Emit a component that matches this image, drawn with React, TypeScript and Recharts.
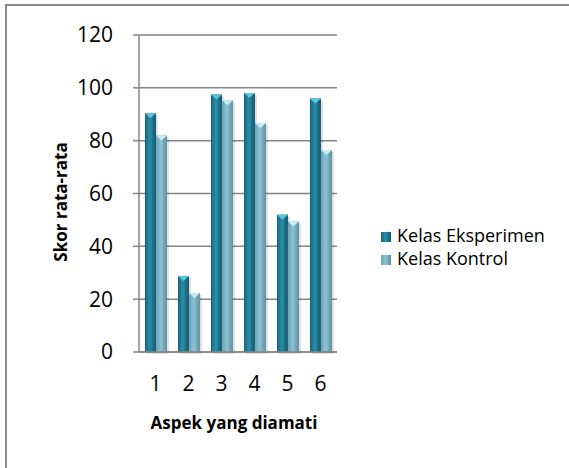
import { BarChart, Bar, XAxis, YAxis, CartesianGrid, Legend, Label } from "recharts";

const aspek = ["1", "2", "3", "4", "5", "6"];
const eksperimen = [90.4, 28.8, 97.5, 98.0, 52.0, 96.0];
const kontrol = [82.0, 22.3, 95.3, 86.7, 49.4, 76.5];
const yTicks = [0, 20, 40, 60, 80, 100, 120];

const data = aspek.map((a, i) => ({
  aspek: a,
  eksperimen: eksperimen[i],
  kontrol: kontrol[i],
}));

const FONT = "'Open Sans', Lato, sans-serif";

const BevelBar = (props: any) => {
  const { x, y, width, height, fill, tip } = props;
  if (!height || height <= 0) return null;
  const t = Math.min(5, width / 2);
  return (
    <g>
      <rect x={x + 2} y={y + 2} width={width} height={height} fill="#000" opacity={0.12} />
      <rect x={x} y={y} width={width} height={height} fill={fill} />
      <polygon
        points={`${x},${y} ${x + width},${y} ${x + width / 2},${y + t}`}
        fill={tip}
      />
    </g>
  );
};

export default function App() {
  return (
    <div
      style={{
        position: "absolute",
        left: 0,
        top: 0,
        width: 569,
        height: 468,
        background: "#fff",
        fontFamily: FONT,
        overflow: "hidden",
      }}
    >
      <div
        style={{
          position: "absolute",
          left: 5,
          top: 4,
          width: 580,
          height: 480,
          borderLeft: "2px solid #8c8c8c",
          borderTop: "2px solid #8c8c8c",
        }}
      />
      <BarChart
        width={569}
        height={468}
        data={data}
        margin={{ top: 35, right: 232, bottom: 86, left: 79 }}
        barCategoryGap="18%"
        barGap={0}
        style={{ position: "absolute", left: 0, top: 0 }}
      >
        <defs>
          <linearGradient id="gE" x1="0" y1="0" x2="1" y2="0">
            <stop offset="0%" stopColor="#176479" />
            <stop offset="45%" stopColor="#2a8fab" />
            <stop offset="100%" stopColor="#145468" />
          </linearGradient>
          <linearGradient id="gK" x1="0" y1="0" x2="1" y2="0">
            <stop offset="0%" stopColor="#6aa2b5" />
            <stop offset="45%" stopColor="#8ec2d3" />
            <stop offset="100%" stopColor="#5d8e9f" />
          </linearGradient>
        </defs>
        <CartesianGrid vertical={false} stroke="#868686" strokeWidth={1.5} />
        <XAxis
          dataKey="aspek"
          height={30}
          axisLine={{ stroke: "#868686", strokeWidth: 1.5 }}
          tickLine={false}
          tick={{ fill: "#000", fontSize: 21, fontFamily: FONT }}
          tickMargin={18}
        >
          <Label
            content={({ viewBox }: any) => (
              <text
                x={viewBox.x + viewBox.width / 2 - 4}
                y={429}
                textAnchor="middle"
                fontSize={17}
                fontWeight="bold"
                fontFamily={FONT}
                fill="#000"
              >
                Aspek yang diamati
              </text>
            )}
          />
        </XAxis>
        <YAxis
          width={60}
          domain={[0, 120]}
          ticks={yTicks}
          axisLine={{ stroke: "#868686", strokeWidth: 1.5 }}
          tickLine={{ stroke: "#868686", strokeWidth: 1.5 }}
          tickSize={6}
          tickMargin={20}
          tick={{ fill: "#000", fontSize: 21, fontFamily: FONT }}
        >
          <Label
            content={() => (
              <text
                x={67}
                y={202}
                transform="rotate(-90 67 202)"
                textAnchor="middle"
                fontSize={17}
                fontWeight="bold"
                fontFamily={FONT}
                fill="#000"
              >
                Skor rata-rata
              </text>
            )}
          />
        </YAxis>
        <Legend
          layout="vertical"
          align="center"
          verticalAlign="middle"
          iconType="square"
          iconSize={10}
          wrapperStyle={{ left: 381, top: 224, width: 188, fontSize: 18, fontFamily: FONT, lineHeight: "23px" }}
          formatter={(v: string) => <span style={{ color: "#000", marginLeft: 2 }}>{v}</span>}
        />
        <Bar
          dataKey="eksperimen"
          name="Kelas Eksperimen"
          fill="url(#gE)"
          shape={(p: any) => <BevelBar {...p} tip="#5ac3de" />}
          legendType="square"
          isAnimationActive={false}
        />
        <Bar
          dataKey="kontrol"
          name="Kelas Kontrol"
          fill="url(#gK)"
          shape={(p: any) => <BevelBar {...p} tip="#c4ecf6" />}
          legendType="square"
          isAnimationActive={false}
        />
      </BarChart>
    </div>
  );
}
